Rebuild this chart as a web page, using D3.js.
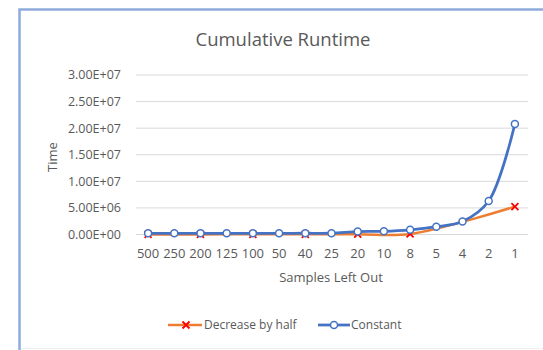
<!DOCTYPE html>
<html>
<head>
<meta charset="utf-8">
<script src="https://cdn.jsdelivr.net/npm/d3@7"></script>
<style>
  body { margin: 0; background: #fff; }
  text { font-family: "Open Sans", sans-serif; fill: #595959; }
</style>
</head>
<body>
<svg id="chart" width="543" height="350"></svg>
<script>
const categories = ["500", "250", "200", "125", "100", "50", "40", "25", "20", "10", "8", "5", "4", "2", "1"];
const constantValues = [2.3e5, 2.3e5, 2.3e5, 2.3e5, 2.3e5, 2.3e5, 2.4e5, 2.5e5, 5.5e5, 6.0e5, 8.8e5, 1.47e6, 2.45e6, 6.3e6, 2.08e7];
const halfValues = [1e4, null, 2e4, null, 3e4, null, 4e4, null, 6e4, null, 1.0e5, null, null, null, 5.25e6];
const yTicks = [0, 5e6, 1e7, 1.5e7, 2e7, 2.5e7, 3e7];

const svg = d3.select("#chart");

// chart frame (runs off the right and bottom of the crop)
svg.append("rect")
  .attr("x", 19.5).attr("y", 9.5)
  .attr("width", 600).attr("height", 360)
  .attr("fill", "#fff")
  .attr("stroke", "#8FAADC")
  .attr("stroke-width", 2.5);

svg.append("line")
  .attr("x1", 21).attr("x2", 543)
  .attr("y1", 348.5).attr("y2", 348.5)
  .attr("stroke", "#EEEEEE");

const x = d3.scaleBand()
  .domain(categories)
  .range([135, 528]);

const y = d3.scaleLinear()
  .domain([0, 3e7])
  .range([234.5, 75]);

const cx = d => x(d) + x.bandwidth() / 2;

// gridlines
svg.append("g")
  .selectAll("line")
  .data(yTicks)
  .join("line")
  .attr("x1", 136).attr("x2", 528)
  .attr("y1", d => y(d)).attr("y2", d => y(d))
  .attr("stroke", "#D9D9D9")
  .attr("stroke-width", 1);

// y axis labels
const fmt = v => {
  const [m, e] = v.toExponential(2).split("e");
  const ex = parseInt(e);
  return m.toUpperCase() + "E" + (ex < 0 ? "-" : "+") + String(Math.abs(ex)).padStart(2, "0");
};

svg.append("g")
  .selectAll("text")
  .data(yTicks)
  .join("text")
  .attr("x", 121)
  .attr("y", d => y(d))
  .attr("dy", "0.35em")
  .attr("text-anchor", "end")
  .style("font-size", "12.5px")
  .text(fmt);

// x axis labels
svg.append("g")
  .selectAll("text")
  .data(categories)
  .join("text")
  .attr("x", d => cx(d))
  .attr("y", 258)
  .attr("text-anchor", "middle")
  .style("font-size", "13px")
  .text(d => d);

// titles
svg.append("text")
  .attr("x", 283).attr("y", 46)
  .attr("text-anchor", "middle")
  .style("font-size", "18.5px")
  .text("Cumulative Runtime");

svg.append("text")
  .attr("x", 331).attr("y", 282)
  .attr("text-anchor", "middle")
  .style("font-size", "13px")
  .text("Samples Left Out");

svg.append("text")
  .attr("transform", "translate(52,157) rotate(-90)")
  .attr("dy", "0.35em")
  .attr("text-anchor", "middle")
  .style("font-size", "13px")
  .text("Time");

// series
const halfPts = categories.map((c, i) => ({ c, v: halfValues[i] })).filter(d => d.v !== null);
const constPts = categories.map((c, i) => ({ c, v: constantValues[i] }));

const line = d3.line()
  .x(d => cx(d.c))
  .y(d => y(d.v))
  .curve(d3.curveCatmullRom.alpha(0.5));

svg.append("path")
  .datum(halfPts)
  .attr("fill", "none")
  .attr("stroke", "#ED7D31")
  .attr("stroke-width", 2.5)
  .attr("d", line);

const cross = (g, px, py, s) => {
  g.append("path")
    .attr("d", `M${px - s},${py - s}L${px + s},${py + s}M${px - s},${py + s}L${px + s},${py - s}`)
    .attr("stroke", "#FF0000")
    .attr("stroke-width", 1.8)
    .attr("fill", "none");
};

const halfMarks = svg.append("g");
halfPts.forEach(d => cross(halfMarks, cx(d.c), y(d.v), 3.5));

svg.append("path")
  .datum(constPts)
  .attr("fill", "none")
  .attr("stroke", "#4472C4")
  .attr("stroke-width", 2.75)
  .attr("d", line);

svg.append("g")
  .selectAll("circle")
  .data(constPts)
  .join("circle")
  .attr("cx", d => cx(d.c))
  .attr("cy", d => y(d.v))
  .attr("r", 3.5)
  .attr("fill", "#fff")
  .attr("stroke", "#4472C4")
  .attr("stroke-width", 1.5);

// legend
const legend = svg.append("g").attr("transform", "translate(0,325)");

legend.append("line")
  .attr("x1", 168).attr("x2", 202)
  .attr("stroke", "#ED7D31").attr("stroke-width", 2.5);
cross(legend, 186, 0, 3.5);
legend.append("text")
  .attr("x", 204).attr("dy", "0.35em")
  .style("font-size", "12px")
  .text("Decrease by half");

legend.append("line")
  .attr("x1", 318).attr("x2", 350)
  .attr("stroke", "#4472C4").attr("stroke-width", 2.75);
legend.append("circle")
  .attr("cx", 334).attr("cy", 0).attr("r", 3.5)
  .attr("fill", "#fff").attr("stroke", "#4472C4").attr("stroke-width", 1.5);
legend.append("text")
  .attr("x", 351).attr("dy", "0.35em")
  .style("font-size", "12px")
  .text("Constant");
</script>
</body>
</html>
